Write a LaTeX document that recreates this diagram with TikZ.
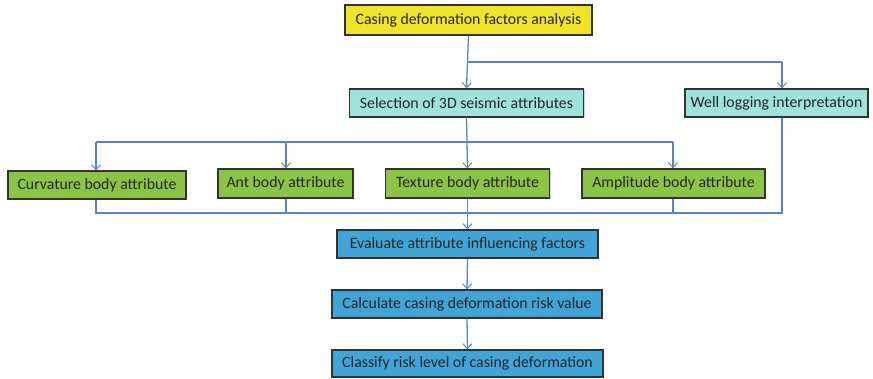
\documentclass[tikz,border=0pt]{standalone}
\usepackage{fontspec}
\setmainfont{Carlito}
\usetikzlibrary{arrows.meta,shadows}
\definecolor{lineblue}{RGB}{84,134,196}
\definecolor{cyellow}{RGB}{240,228,40}
\definecolor{ccyan}{RGB}{160,226,220}
\definecolor{cgreen}{RGB}{140,196,72}
\definecolor{cblue}{RGB}{64,164,214}
\definecolor{cborder}{RGB}{50,50,50}
\tikzset{
  box/.style={draw=cborder, line width=1.2pt, inner sep=0pt, anchor=center,
    font=\fontsize{15.8}{18}\selectfont, text=black!85,
    drop shadow={shadow xshift=1.2pt, shadow yshift=-1.2pt, opacity=0.35}},
  conn/.style={draw=lineblue, line width=1.3pt},
  arr/.style={conn, -{Straight Barb[length=5pt,width=9pt,line width=1pt]}},
}
\begin{document}
\begin{tikzpicture}[x=1pt,y=-1pt]
\useasboundingbox (0,0) rectangle (873,379);
% boxes
\node[box, fill=cyellow, minimum width=247, minimum height=30] (top) at (468.5,20) {Casing deformation factors analysis};
\node[box, fill=ccyan, minimum width=234, minimum height=28] (sel) at (466.5,103) {Selection of 3D seismic attributes};
\node[box, fill=ccyan, minimum width=183, minimum height=28] (well) at (776.5,103) {Well logging interpretation};
\node[box, fill=cgreen, minimum width=178, minimum height=28] (curv) at (97,185) {Curvature body attribute};
\node[box, fill=cgreen, minimum width=135, minimum height=29] (ant) at (285.5,183.5) {Ant body attribute};
\node[box, fill=cgreen, minimum width=164, minimum height=29] (tex) at (467.5,183.5) {Texture body attribute};
\node[box, fill=cgreen, minimum width=183, minimum height=29] (amp) at (673.5,183.5) {Amplitude body attribute};
\node[box, fill=cblue, minimum width=261, minimum height=28] (eval) at (467.5,244) {Evaluate attribute influencing factors};
\node[box, fill=cblue, minimum width=270, minimum height=28] (calc) at (467,304) {Calculate casing deformation risk value};
\node[box, fill=cblue, minimum width=271, minimum height=27] (cls) at (467.5,363.5) {Classify risk level of casing deformation};
% junction coordinates
\coordinate (j1) at (467,62);
\coordinate (j1r) at (782,62);
\coordinate (j2) at (467,142);
\coordinate (j2c) at (96,142);
\coordinate (j2a) at (286,142);
\coordinate (j2m) at (673,142);
\coordinate (j3) at (467,213);
\coordinate (j3c) at (96,213);
\coordinate (j3a) at (286,213);
\coordinate (j3m) at (673,213);
\coordinate (j3w) at (782,213);
% top
\draw[arr] (top.south) -- (sel.north);
\draw[conn] (j1) -- (j1r);
\draw[arr] (j1r) -- (j1r |- well.north);
% selection to attributes
\draw[conn] (sel.south) -- (j2);
\draw[conn] (j2c) -- (j2m);
\draw[arr] (j2c) -- (j2c |- curv.north);
\draw[arr] (j2a) -- (j2a |- ant.north);
\draw[arr] (j2) -- (tex.north);
\draw[arr] (j2m) -- (j2m |- amp.north);
% attributes to evaluate
\draw[conn] (j3c |- curv.south) -- (j3c) -- (j3m) -- (j3m |- amp.south);
\draw[conn] (j3a |- ant.south) -- (j3a);
\draw[conn] (j3w |- well.south) -- (j3w) -- (j3m);
\draw[arr] (tex.south) -- (eval.north);
% chain
\draw[arr] (eval.south) -- (calc.north);
\draw[arr] (calc.south) -- (cls.north);
\end{tikzpicture}
\end{document}
